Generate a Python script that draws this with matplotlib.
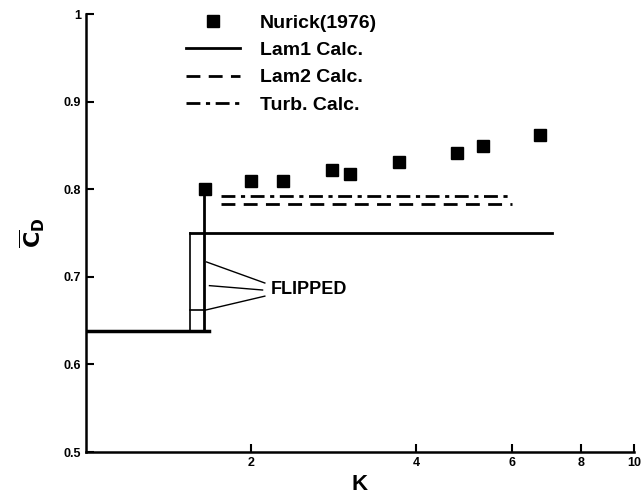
import numpy as np
import matplotlib.pyplot as plt

plt.rcParams['font.family'] = ['Liberation Sans', 'DejaVu Sans']

# Nurick (1976) measurements
nurick_k = [1.65, 2.0, 2.29, 2.81, 3.03, 3.73, 4.75, 5.30, 6.74]
nurick_cd = [0.800, 0.810, 0.810, 0.822, 0.818, 0.831, 0.841, 0.850, 0.862]

# Lam1 calc. (unflipped / flipped branches)
lam1_low_k = [1.0, 1.68]
lam1_low_cd = [0.638, 0.638]
lam1_high_k = [1.55, 7.08]
lam1_high_cd = [0.750, 0.750]
lam1_jump_k = [1.64, 1.64]
lam1_jump_cd = [0.638, 0.800]
lam1_edge_k = [1.55, 1.55]
lam1_edge_cd = [0.638, 0.750]
lam1_mid_k = [1.55, 1.64]
lam1_mid_cd = [0.662, 0.662]

# Lam2 and turbulent calc.
lam2_k = [1.76, 6.0]
lam2_cd = [0.783, 0.783]
turb_k = [1.76, 6.0]
turb_cd = [0.792, 0.792]

fig = plt.figure(figsize=(6.44, 4.97), dpi=100)
ax = fig.add_axes([0.1335, 0.0905, 0.851, 0.881])

ax.plot(nurick_k, nurick_cd, 's', color='black', ms=8, label='Nurick(1976)')
ax.plot(lam1_high_k, lam1_high_cd, '-', color='black', lw=2, label='Lam1 Calc.')
ax.plot(lam2_k, lam2_cd, '--', color='black', lw=2, dashes=(5, 3), label='Lam2 Calc.')
ax.plot(turb_k, turb_cd, '-.', color='black', lw=2, dashes=(5, 2, 1.5, 2), label='Turb. Calc.')
ax.plot(lam1_low_k, lam1_low_cd, '-', color='black', lw=2.5)
ax.plot(lam1_jump_k, lam1_jump_cd, '-', color='black', lw=2)
ax.plot(lam1_edge_k, lam1_edge_cd, '-', color='black', lw=1.2)
ax.plot(lam1_mid_k, lam1_mid_cd, '-', color='black', lw=1.2)

# FLIPPED label with pointer lines
ax.text(2.17, 0.686, 'FLIPPED', fontsize=13, fontweight='bold', va='center', ha='left')
for (x0, y0), (x1, y1) in [((1.66, 0.717), (2.12, 0.693)),
                           ((1.68, 0.690), (2.10, 0.685)),
                           ((1.65, 0.662), (2.12, 0.678))]:
    ax.plot([x0, x1], [y0, y1], '-', color='black', lw=1)

ax.set_xscale('log')
ax.set_xlim(1, 10)
ax.set_ylim(0.5, 1.0)
ax.set_xticks([2, 4, 6, 8, 10])
ax.set_xticklabels(['2', '4', '6', '8', '10'])
ax.xaxis.set_minor_locator(plt.NullLocator())
ax.set_yticks([0.5, 0.6, 0.7, 0.8, 0.9, 1.0])
ax.set_yticklabels(['0.5', '0.6', '0.7', '0.8', '0.9', '1'])
ax.tick_params(direction='in', length=6, width=1.5, labelsize=9)
for lbl in ax.get_xticklabels() + ax.get_yticklabels():
    lbl.set_fontweight('bold')

ax.spines['top'].set_visible(False)
ax.spines['right'].set_visible(False)
ax.spines['left'].set_linewidth(1.8)
ax.spines['bottom'].set_linewidth(1.8)

ax.set_xlabel('K', fontsize=16, fontweight='bold', labelpad=4)
ax.set_ylabel(r'$\overline{\mathbf{C}}_{\mathbf{D}}$', fontsize=16, labelpad=12)

ax.legend(loc='upper left', bbox_to_anchor=(0.15, 1.04), frameon=False,
          handlelength=2.8, prop={'weight': 'bold', 'size': 14},
          labelspacing=0.5, handletextpad=1.0)

fig.savefig('out.png', dpi=100)
